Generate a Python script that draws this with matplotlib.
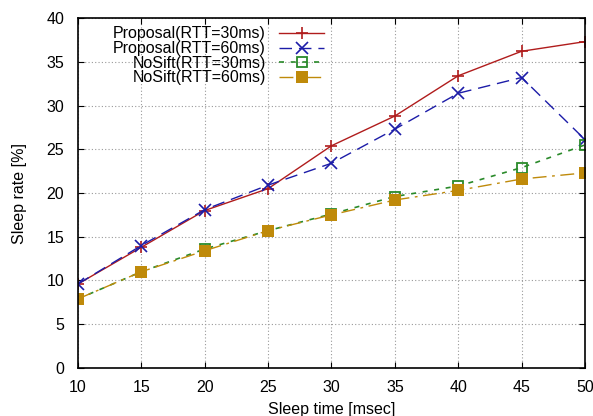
import matplotlib
matplotlib.use("Agg")
import matplotlib.pyplot as plt

plt.rcParams['font.family'] = ['Liberation Sans', 'DejaVu Sans']
plt.rcParams['font.size'] = 11.5

sleep_time = [10, 15, 20, 25, 30, 35, 40, 45, 50]
proposal_30 = [9.6, 13.8, 18.0, 20.5, 25.4, 28.8, 33.4, 36.2, 37.3]
proposal_60 = [9.6, 14.0, 18.1, 20.9, 23.4, 27.3, 31.4, 33.2, 26.1]
nosift_30 = [7.9, 11.0, 13.6, 15.7, 17.6, 19.6, 20.8, 22.9, 25.5]
nosift_60 = [7.9, 11.0, 13.4, 15.7, 17.5, 19.2, 20.3, 21.6, 22.3]

fig = plt.figure(figsize=(5.93, 4.16), dpi=100)
ax = fig.add_axes([0.1315, 0.1154, 0.855, 0.8413])

ax.plot(sleep_time, proposal_30, color='#b01c1c', lw=1.0, ls='-',
        marker='+', ms=9, mew=1.2, label='Proposal(RTT=30ms)')
ax.plot(sleep_time, proposal_60, color='#1c1ca8', lw=1.0, ls=(0, (9, 5)),
        marker='x', ms=8, mew=1.2, label='Proposal(RTT=60ms)')
ax.plot(sleep_time, nosift_30, color='#2a8a2a', lw=1.2, ls=(0, (3, 4)),
        marker='s', ms=7.5, mfc='none', mew=1.3, label='NoSift(RTT=30ms)')
ax.plot(sleep_time, nosift_60, color='#bf8a0a', lw=1.0, ls=(0, (10, 4, 2, 4)),
        marker='s', ms=8, mew=0, label='NoSift(RTT=60ms)')

ax.set_xlim(10, 50)
ax.set_ylim(0, 40)
ax.set_xticks(range(10, 51, 5))
ax.set_yticks(range(0, 41, 5))
ax.tick_params(direction='in', top=True, right=True, length=4)
ax.tick_params(axis='x', pad=9)
ax.tick_params(axis='y', pad=10)
ax.grid(True, ls=(0, (1, 2)), color='#999999', lw=0.8)
for s in ax.spines.values():
    s.set_linewidth(1.2)

ax.set_xlabel('Sleep time [msec]', labelpad=5)
ax.set_ylabel('Sleep rate [%]', labelpad=14)

leg = ax.legend(loc='upper left', bbox_to_anchor=(0.069, 0.976), markerfirst=False,
                frameon=False, handlelength=2.8, handletextpad=0.85,
                labelspacing=-0.02, borderaxespad=0, borderpad=0)
for t in leg.get_texts():
    t.set_ha('right')
leg._legend_box.align = 'right'

fig.savefig('out.png', dpi=100)
